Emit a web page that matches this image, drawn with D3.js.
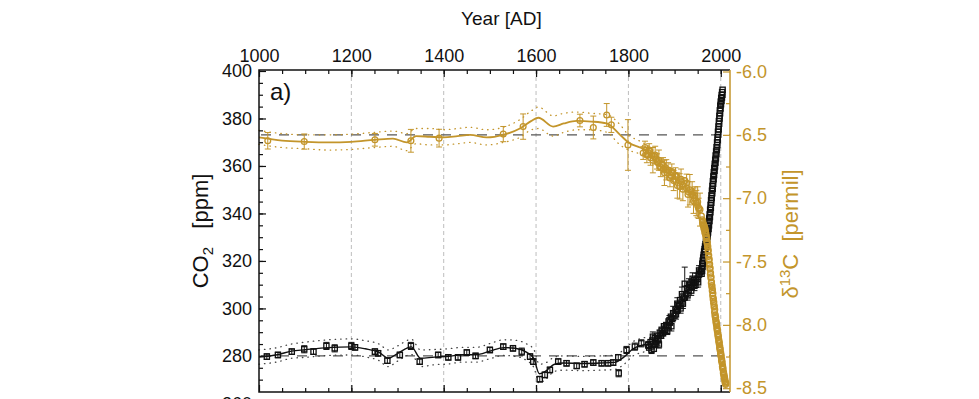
<!DOCTYPE html>
<html>
<head>
<meta charset="utf-8">
<script src="https://cdn.jsdelivr.net/npm/d3@7"></script>
<style>
  body { margin: 0; background: #fff; }
  svg { display: block; font-family: "Liberation Sans", Arial, Helvetica, sans-serif; }
</style>
</head>
<body>
<div id="chart"></div>
<script>
// ---- CO2 ice core samples (ppm) with 1-sigma error
var co2Year = [1017,1041,1071,1098,1118,1146,1164,1200,1208,1251,1258,1278,1305,1329,1348,1388,1410,1431,1450,1469,1500,1529,1550,1569,1587,1594,1608,1619,1630,1648,1666,1688,1705,1724,1742,1756,1767,1778,1779,1796,1814,1828,1843,
  1850,1853,1858,1863,1866,1872,1878,1884,1889,1893,1897,1903,1906,1913,1916,1918,1922,1928,1931,1936,1939,1943,1947,1951,1953];
var co2Val  = [279.7,280.4,281.8,282.8,281.8,284.2,283.2,284.2,283.6,281.8,281.1,278.0,280.4,284.2,277.6,280.4,279.4,279.4,281.4,280.0,282.5,283.9,283.2,281.8,279.7,277.6,270.2,272.0,274.1,277.6,276.9,275.8,276.5,277.2,276.9,276.9,277.2,279.4,272.7,282.5,283.9,285.3,284.6,
  282.5,288.1,285.0,286.5,284.8,289.5,291.5,290.5,295.0,292.5,297.9,297.5,302.0,300.0,306.0,302.0,310.4,305.5,310.0,307.5,312.5,309.5,311.8,311.0,316.0];
var co2Err  = [1.2,1.2,1.2,1.5,1.2,1.5,1.5,1.5,1.2,1.2,1.2,1.2,1.2,1.5,1.2,1.2,1.2,1.2,1.2,1.2,1.2,1.2,1.2,1.5,1.2,1.2,1.2,1.2,1.2,1.2,1.2,1.2,1.2,1.2,1.2,1.2,1.2,1.2,1.5,1.5,1.5,1.5,1.5,
  1.5,2.0,1.5,2.0,1.5,2.0,2.0,1.5,2.0,2.0,3.0,2.0,2.5,2.0,3.0,2.0,7.0,2.0,2.5,2.0,2.5,2.0,3.0,2.0,2.0];

// ---- CO2 firn / atmosphere, dense modern record
var co2AtmYear = [1845,1848,1850,1852,1855,1857,1860,1862,1865,1868,1870,1872,1875,1877,1880,1882,1885,1887,1890,1892,1895,1897,1900,1902,1905,1907,1910,1912,1915,1917,1920,1925,1927,1930,1932,1935,1937,1940,1942,1945,1950,1952,1954,1956,
  1958,1958.5,1959,1959.5,1960,1960.5,1961,1961.5,1962,1962.5,1963,1963.5,1964,1964.5,1965,1965.5,1966,1966.5,1967,1967.5,1968,1968.5,1969,1969.5,
  1970,1970.5,1971,1971.5,1972,1972.5,1973,1973.5,1974,1974.5,1975,1975.5,1976,1976.5,1977,1977.5,1978,1978.5,1979,1979.5,
  1980,1980.5,1981,1981.5,1982,1982.5,1983,1983.5,1984,1984.5,1985,1985.5,1986,1986.5,1987,1987.5,1988,1988.5,1989,1989.5,
  1990,1990.5,1991,1991.5,1992,1992.5,1993,1993.5,1994,1994.5,1995,1995.5,1996,1996.5,1997,1997.5,1998,1998.5,1999,1999.5,
  2000,2000.5,2001,2001.5,2002,2002.5,2003,2003.5,2004];
var co2AtmVal  = [283.5,285.8,284.0,286.5,283.0,287.5,286.0,288.5,287.0,289.8,288.5,291.0,289.5,292.5,291.0,293.0,292.0,294.5,294.0,296.5,295.5,298.0,297.0,299.5,299.0,301.5,301.0,303.5,302.5,305.0,304.5,306.0,308.5,307.5,309.0,309.0,311.0,310.5,312.0,311.0,312.5,314.0,314.5,315.5,
  315.8,314.6,316.9,315.8,318.8,317.6,320.1,319.0,321.4,320.2,322.6,321.4,323.9,322.8,325.0,324.0,326.1,325.0,327.1,326.0,328.1,327.0,329.1,328.2,
  330.1,329.0,331.6,330.4,333.1,332.0,334.6,333.5,336.1,335.0,337.9,336.8,339.6,338.5,341.6,340.5,343.6,342.4,345.6,344.5,
  347.6,346.5,349.6,348.5,351.6,350.4,353.6,352.5,355.6,354.4,357.4,356.2,359.1,358.0,360.9,359.8,362.6,361.4,364.4,363.2,
  366.1,365.0,367.9,366.8,369.9,368.8,372.1,371.0,374.4,373.2,376.6,375.4,378.9,377.8,381.1,380.0,383.4,382.2,385.4,384.2,
  387.1,386.0,388.6,387.4,389.9,388.8,391.1,390.0,392.1];

// ---- CO2 spline and its envelope
var co2FitYear = [1000,1040,1070,1100,1150,1200,1230,1260,1280,1300,1330,1350,1380,1410,1440,1470,1500,1530,1555,1580,1595,1607,1620,1640,1660,1700,1740,1770,1790,1810,1830,1845];
var co2Fit = [279.5,280.5,282.0,282.6,283.5,283.8,283.0,281.5,279.0,281.0,283.8,279.0,279.5,279.8,280.5,280.5,282.0,283.5,283.2,281.5,279.0,272.5,273.5,276.5,277.0,276.8,277.0,277.3,279.5,283.0,284.5,285.0];
var co2Hi  = [282.5,283.5,285.0,285.8,286.8,287.2,286.4,285.0,282.5,284.2,287.0,282.5,282.7,283.0,283.6,283.6,285.2,286.8,286.6,285.0,282.8,276.5,277.0,279.5,280.0,279.8,280.0,280.3,282.6,286.0,287.5,288.0];
var co2Lo  = [276.5,277.5,279.0,279.4,280.2,280.4,279.6,278.0,275.5,277.8,280.6,275.5,276.3,276.6,277.4,277.4,278.8,280.2,279.8,278.0,275.2,268.5,270.0,273.5,274.0,273.8,274.0,274.3,276.4,280.0,281.5,282.0];

// ---- d13C ice core / firn samples (permil) with error
var d13Year = [1019,1098,1251,1329,1390,1529,1572,1695,1724,1753,1763,1799,1832,1836,1840,1845,1848,1853,1858,1862,1866,1870,1875,1878,1882,1886,1890,1894,1898,1902,1906,1911,1914,1918,1926,1929,1933,1938,1941,1944,1947,1950,1952,1955];
var d13Val  = [-6.547,-6.553,-6.539,-6.547,-6.526,-6.494,-6.435,-6.387,-6.442,-6.343,-6.421,-6.58,-6.644,-6.60,-6.66,-6.62,-6.68,-6.70,-6.66,-6.71,-6.70,-6.76,-6.74,-6.80,-6.776,-6.78,-6.84,-6.79,-6.86,-6.82,-6.90,-6.907,-6.85,-6.93,-6.88,-6.97,-6.933,-6.95,-7.02,-6.98,-7.038,-7.03,-7.08,-7.09];
var d13Err  = [0.065,0.06,0.05,0.09,0.07,0.06,0.10,0.05,0.09,0.09,0.06,0.20,0.05,0.05,0.06,0.05,0.06,0.10,0.07,0.06,0.08,0.07,0.06,0.10,0.08,0.06,0.07,0.06,0.08,0.06,0.10,0.10,0.08,0.09,0.07,0.10,0.12,0.08,0.10,0.07,0.10,0.12,0.08,0.13];

// ---- d13C atmosphere, dense modern record
var d13AtmYear = [1838,1842,1846,1850,1856,1860,1864,1868,1872,1876,1880,1884,1888,1892,1896,1900,1904,1908,1915,1918,1922,1926,1930,1937,1940,1943,1950,1953,1958,
  1960,1960.5,1961,1961.5,1962,1962.5,1963,1963.5,1964,1964.5,1965,1965.5,1966,1966.5,1967,1967.5,1968,1968.5,1969,1969.5,
  1970,1970.5,1971,1971.5,1972,1972.5,1973,1973.5,1974,1974.5,1975,1975.5,1976,1976.5,1977,1977.5,1978,1978.5,1979,1979.5,
  1980,1980.5,1981,1981.5,1982,1982.5,1983,1983.5,1984,1984.5,1985,1985.5,1986,1986.5,1987,1987.5,1988,1988.5,1989,1989.5,
  1990,1990.5,1991,1991.5,1992,1992.5,1993,1993.5,1994,1994.5,1995,1995.5,1996,1996.5,1997,1997.5,1998,1998.5,1999,1999.5,
  2000,2000.5,2001,2001.5,2002,2002.5,2003,2003.5,2004,2004.5,2005,2005.5,2006,2006.5,2007,2007.5,2008,2008.5,2009,2009.5,2010,2010.5,2011];
var d13AtmVal  = [-6.62,-6.66,-6.63,-6.66,-6.67,-6.69,-6.72,-6.75,-6.73,-6.77,-6.76,-6.80,-6.78,-6.82,-6.80,-6.85,-6.83,-6.88,-6.87,-6.90,-6.86,-6.92,-6.95,-6.97,-6.98,-7.00,-7.06,-7.08,-7.14,
  -7.17,-7.19,-7.18,-7.21,-7.20,-7.22,-7.21,-7.24,-7.22,-7.25,-7.23,-7.27,-7.24,-7.28,-7.26,-7.30,-7.28,-7.32,-7.30,-7.34,
  -7.32,-7.36,-7.35,-7.39,-7.38,-7.42,-7.41,-7.46,-7.45,-7.49,-7.48,-7.53,-7.52,-7.56,-7.55,-7.60,-7.59,-7.63,-7.62,-7.67,
  -7.66,-7.70,-7.69,-7.73,-7.72,-7.77,-7.75,-7.80,-7.79,-7.83,-7.82,-7.86,-7.85,-7.90,-7.88,-7.93,-7.92,-7.95,-7.94,-7.98,
  -7.97,-8.00,-7.99,-8.03,-8.02,-8.05,-8.04,-8.08,-8.07,-8.10,-8.09,-8.13,-8.12,-8.15,-8.14,-8.18,-8.17,-8.20,-8.19,-8.23,
  -8.22,-8.25,-8.24,-8.28,-8.27,-8.30,-8.29,-8.33,-8.32,-8.35,-8.34,-8.38,-8.37,-8.40,-8.39,-8.42,-8.41,-8.44,-8.43,-8.46,-8.45,-8.47,-8.46];

// ---- d13C spline and envelope
var d13FitYear = [1000,1050,1100,1150,1200,1250,1290,1320,1340,1370,1400,1430,1457,1493,1529,1565,1590,1605,1637,1660,1688,1720,1753,1782,1800,1825,1845];
var d13Fit = [-6.52,-6.545,-6.555,-6.56,-6.555,-6.54,-6.53,-6.56,-6.51,-6.515,-6.52,-6.51,-6.50,-6.52,-6.50,-6.45,-6.39,-6.365,-6.435,-6.41,-6.39,-6.395,-6.41,-6.50,-6.56,-6.60,-6.63];
var d13Hi  = [-6.465,-6.49,-6.50,-6.50,-6.495,-6.48,-6.47,-6.49,-6.45,-6.45,-6.46,-6.45,-6.44,-6.46,-6.44,-6.38,-6.31,-6.28,-6.35,-6.33,-6.32,-6.33,-6.34,-6.42,-6.50,-6.55,-6.59];
var d13Lo  = [-6.575,-6.60,-6.61,-6.62,-6.615,-6.60,-6.59,-6.625,-6.57,-6.58,-6.58,-6.57,-6.56,-6.58,-6.56,-6.52,-6.46,-6.45,-6.51,-6.48,-6.46,-6.46,-6.48,-6.58,-6.62,-6.65,-6.68];

// ---- axes
var yearTicks = [1000,1200,1400,1600,1800,2000];
var co2Ticks  = [260,280,300,320,340,360,380,400];
var d13Ticks  = [-6.0,-6.5,-7.0,-7.5,-8.0,-8.5];
var co2Ref = 280, d13Ref = -6.5;

var gold = '#c3952b';
var W = 979, H = 399;
var pl = 259, pr = 730, pt = 70, pb = 392;

var x = d3.scaleLinear().domain([1000, 2020]).range([pl, pr]);
var yL = d3.scaleLinear().domain([264.8, 400]).range([pb, 71]);
var yR = d3.scaleLinear().domain([-8.53, -6.0]).range([pb, 71.5]);

var svg = d3.select('#chart').append('svg')
  .attr('width', W).attr('height', H);

// vertical grid
svg.append('g').selectAll('line')
  .data(yearTicks.slice(1))
  .enter().append('line')
  .attr('x1', d => x(d)).attr('x2', d => x(d))
  .attr('y1', pt).attr('y2', pb)
  .attr('stroke', '#bdbdbd').attr('stroke-width', 1)
  .attr('stroke-dasharray', '4,3');

// reference dashed lines
svg.append('line')
  .attr('x1', pl + 2).attr('x2', pr)
  .attr('y1', yR(d13Ref)).attr('y2', yR(d13Ref))
  .attr('stroke', '#555').attr('stroke-width', 1.3).attr('stroke-dasharray', '10,8');
svg.append('line')
  .attr('x1', pl + 2).attr('x2', pr)
  .attr('y1', yL(co2Ref)).attr('y2', yL(co2Ref))
  .attr('stroke', '#555').attr('stroke-width', 1.3).attr('stroke-dasharray', '10,8');

function drawSeries(opts){
  var g = svg.append('g');
  var y = opts.y;
  var fitLine = d3.line().curve(d3.curveMonotoneX)
    .x(function(d){ return x(d[0]); }).y(function(d){ return y(d[1]); });

  [opts.hi, opts.lo].forEach(function(arr){
    g.append('path')
      .datum(opts.fitYear.map(function(yr, i){ return [yr, arr[i]]; }))
      .attr('d', fitLine)
      .attr('fill', 'none').attr('stroke', opts.dotColor)
      .attr('stroke-width', 1.3).attr('stroke-linecap', 'round')
      .attr('stroke-dasharray', '0.5,5');
  });

  g.append('path')
    .datum(opts.fitYear.map(function(yr, i){ return [yr, opts.fit[i]]; }))
    .attr('d', fitLine)
    .attr('fill', 'none').attr('stroke', opts.color).attr('stroke-width', opts.lw);

  // dense modern record
  var atm = opts.atmYear.map(function(yr, i){ return [yr, opts.atmVal[i]]; });
  g.append('g').selectAll(opts.shape)
    .data(atm).enter()
    .call(function(sel){ opts.marker(sel); });

  // samples with error bars
  var pts = opts.year.map(function(yr, i){ return [yr, opts.val[i], opts.err[i]]; });
  var eb = g.append('g').attr('stroke', opts.color).attr('stroke-width', 1);
  eb.selectAll('.bar').data(pts).enter().append('line')
    .attr('x1', d => x(d[0])).attr('x2', d => x(d[0]))
    .attr('y1', d => y(d[1] - d[2])).attr('y2', d => y(d[1] + d[2]));
  eb.selectAll('.capT').data(pts).enter().append('line')
    .attr('x1', d => x(d[0]) - 3).attr('x2', d => x(d[0]) + 3)
    .attr('y1', d => y(d[1] + d[2])).attr('y2', d => y(d[1] + d[2]));
  eb.selectAll('.capB').data(pts).enter().append('line')
    .attr('x1', d => x(d[0]) - 3).attr('x2', d => x(d[0]) + 3)
    .attr('y1', d => y(d[1] - d[2])).attr('y2', d => y(d[1] - d[2]));
  g.append('g').selectAll(opts.shape)
    .data(pts).enter()
    .call(function(sel){ opts.marker(sel); });
}

drawSeries({
  y: yL, color: '#111', lw: 1.4, dotColor: '#444', shape: 'rect',
  year: co2Year, val: co2Val, err: co2Err,
  atmYear: co2AtmYear, atmVal: co2AtmVal,
  fitYear: co2FitYear, fit: co2Fit, hi: co2Hi, lo: co2Lo,
  marker: function(sel){
    sel.append('rect')
      .attr('x', d => x(d[0]) - 2.6).attr('y', d => yL(d[1]) - 2.6)
      .attr('width', 5.2).attr('height', 5.2)
      .attr('fill', 'none').attr('stroke', '#111').attr('stroke-width', 1.3);
  }
});

drawSeries({
  y: yR, color: gold, lw: 1.8, dotColor: gold, shape: 'circle',
  year: d13Year, val: d13Val, err: d13Err,
  atmYear: d13AtmYear, atmVal: d13AtmVal,
  fitYear: d13FitYear, fit: d13Fit, hi: d13Hi, lo: d13Lo,
  marker: function(sel){
    sel.append('circle')
      .attr('cx', d => x(d[0])).attr('cy', d => yR(d[1]))
      .attr('r', 2.9)
      .attr('fill', 'none').attr('stroke', gold).attr('stroke-width', 1.3);
  }
});

// frame
svg.append('path')
  .attr('d', 'M' + pr + ',' + pt + 'H' + pl + 'V' + pb + 'H' + pr)
  .attr('fill', 'none').attr('stroke', '#111').attr('stroke-width', 1.5);
svg.append('line')
  .attr('x1', pr).attr('x2', pr).attr('y1', pt).attr('y2', pb)
  .attr('stroke', gold).attr('stroke-width', 1.5);

function styleAxis(g, color, size){
  g.select('.domain').remove();
  g.selectAll('line').attr('stroke', color).attr('stroke-width', 1.2);
  g.selectAll('text').attr('fill', color).style('font-size', size + 'px')
    .style('font-family', '"Liberation Sans", Arial, sans-serif');
}

// top axis with labels
svg.append('g').attr('transform', 'translate(0,' + pt + ')')
  .call(d3.axisTop(x).tickValues(yearTicks).tickSize(-7).tickSizeOuter(0).tickPadding(8).tickFormat(d3.format('d')))
  .call(g => styleAxis(g, '#111', 18));
svg.append('g').attr('transform', 'translate(0,' + pt + ')')
  .call(d3.axisTop(x).tickValues(d3.range(1050, 2020, 50)).tickSize(-4).tickSizeOuter(0).tickFormat(''))
  .call(g => styleAxis(g, '#111', 18));
// bottom axis
svg.append('g').attr('transform', 'translate(0,' + pb + ')')
  .call(d3.axisBottom(x).tickValues(yearTicks).tickSize(-7).tickSizeOuter(0).tickFormat(''))
  .call(g => styleAxis(g, '#111', 18));
svg.append('g').attr('transform', 'translate(0,' + pb + ')')
  .call(d3.axisBottom(x).tickValues(d3.range(1050, 2020, 50)).tickSize(-4).tickSizeOuter(0).tickFormat(''))
  .call(g => styleAxis(g, '#111', 18));

// left axis
svg.append('g').attr('transform', 'translate(' + pl + ',0)')
  .call(d3.axisLeft(yL).tickValues(co2Ticks).tickSize(-7).tickSizeOuter(0).tickPadding(7).tickFormat(d3.format('d')))
  .call(g => styleAxis(g, '#111', 18));
svg.append('g').attr('transform', 'translate(' + pl + ',0)')
  .call(d3.axisLeft(yL).tickValues(d3.range(270, 400, 5)).tickSize(-4).tickSizeOuter(0).tickFormat(''))
  .call(g => styleAxis(g, '#111', 18));

// right axis
svg.append('g').attr('transform', 'translate(' + pr + ',0)')
  .call(d3.axisRight(yR).tickValues(d13Ticks).tickSize(-7).tickSizeOuter(0).tickPadding(6).tickFormat(d => d.toFixed(1)))
  .call(g => styleAxis(g, gold, 18));
svg.append('g').attr('transform', 'translate(' + pr + ',0)')
  .call(d3.axisRight(yR).tickValues([-6.25,-6.75,-7.25,-7.75,-8.25]).tickSize(-4).tickSizeOuter(0).tickFormat(''))
  .call(g => styleAxis(g, gold, 18));

// titles
svg.append('text')
  .attr('x', x(1525)).attr('y', 25)
  .attr('text-anchor', 'middle').style('font-size', '19px').attr('fill', '#111')
  .text('Year [AD]');

svg.append('text')
  .attr('x', 270).attr('y', 100)
  .style('font-size', '24px').attr('fill', '#111')
  .text('a)');

var lt = svg.append('text')
  .attr('transform', 'translate(208,' + 231 + ') rotate(-90)')
  .attr('text-anchor', 'middle').style('font-size', '22px').attr('fill', '#111');
lt.append('tspan').text('CO');
lt.append('tspan').attr('dy', 5).style('font-size', '15px').text('2');
lt.append('tspan').attr('dy', -5).text('\u00a0\u00a0\u00a0[ppm]');

var rt = svg.append('text')
  .attr('transform', 'translate(798,' + 234 + ') rotate(-90)')
  .attr('text-anchor', 'middle').style('font-size', '22px').attr('fill', gold);
rt.append('tspan').text('\u03b4');
rt.append('tspan').attr('dy', -8).style('font-size', '15px').text('13');
rt.append('tspan').attr('dy', 8).text('C\u00a0\u00a0[permil]');
</script>
</body>
</html>
